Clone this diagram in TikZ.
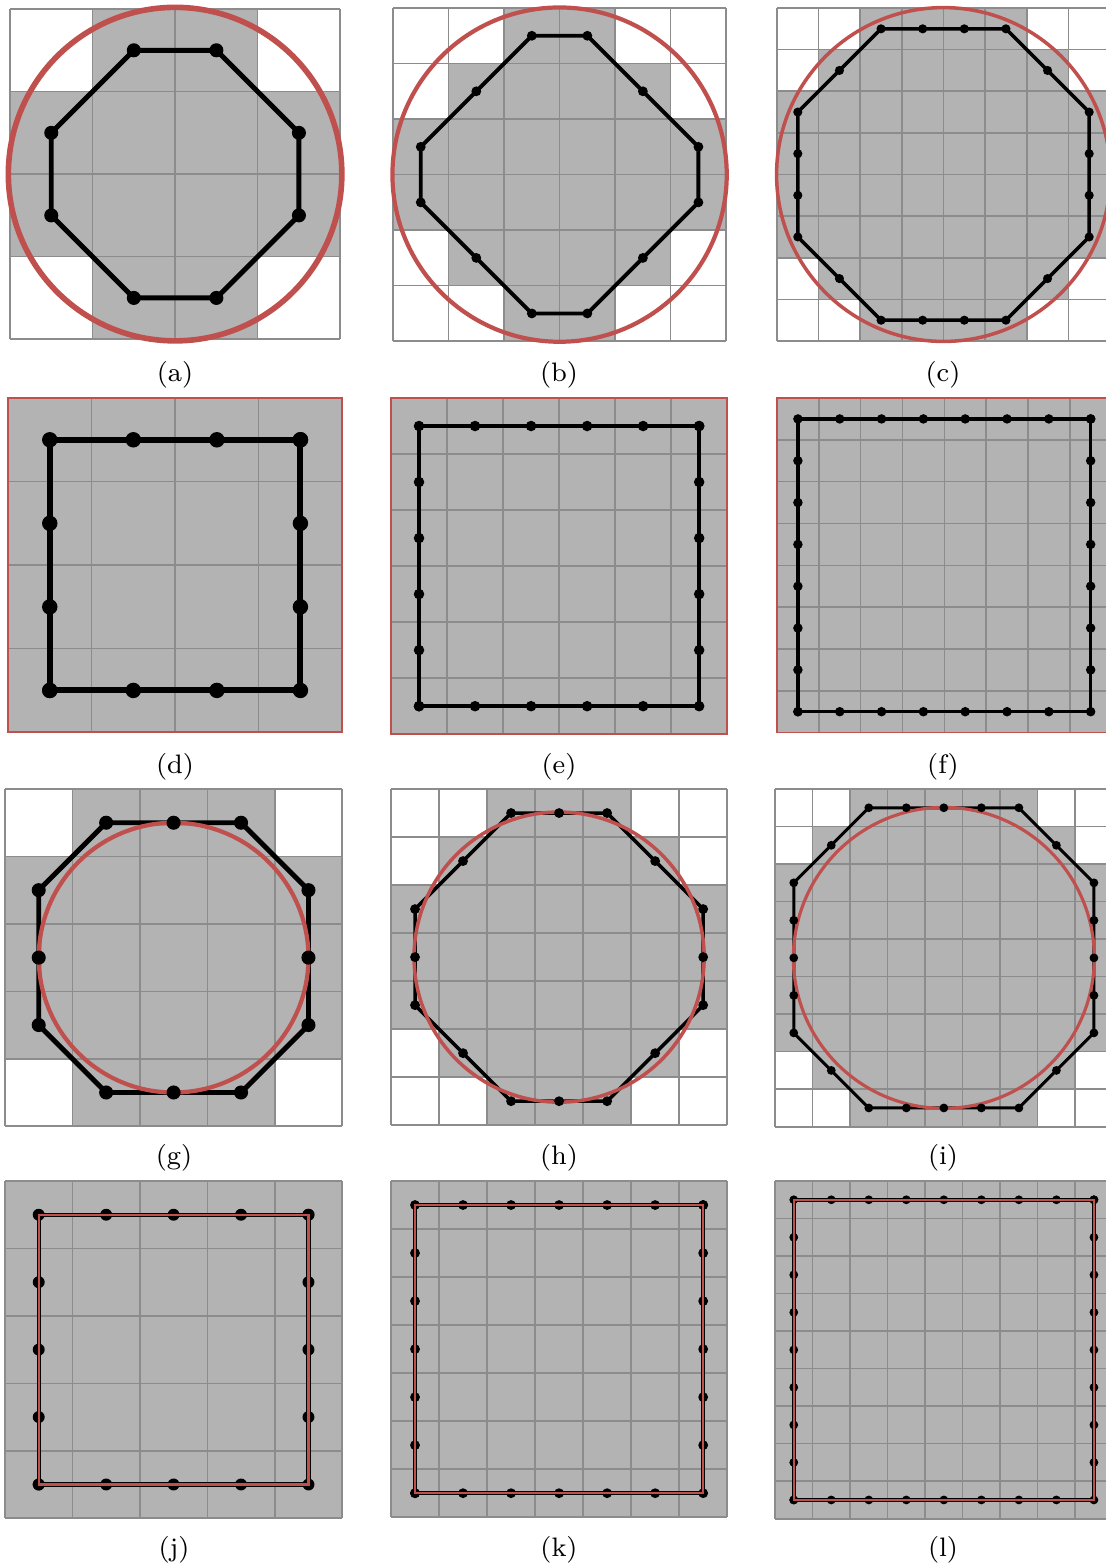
\documentclass[tikz,border=0pt]{standalone}
\definecolor{ringred}{RGB}{192,80,77}
\definecolor{cellgray}{RGB}{179,179,179}
\definecolor{linegray}{RGB}{140,140,140}
\tikzset{
  pixfill/.style={fill=cellgray},
  gridline/.style={draw=linegray, line width=0.45pt},
  ring/.style={draw=ringred, line width=#1},
  polyline/.style={draw=black, line width=#1, line join=round},
  caption/.style={font=\fontsize{7.6}{9}\selectfont}
}

\begin{document}
\begin{tikzpicture}[x=0.01cm,y=-0.01cm]
\useasboundingbox (0,0) rectangle (1106,1568);

% (a) 4x4
\begin{scope}[shift={(10,9)},x=0.825cm,y=-0.825cm]
\fill[pixfill] (1,0) rectangle (3,4) (0,1) rectangle (4,3);
\foreach \i in {0,...,4} \draw[gridline] (\i,0) -- (\i,4) (0,\i) -- (4,\i);
\draw[polyline=1.4pt] (1.5,.5) -- (2.5,.5) -- (3.5,1.5) -- (3.5,2.5) -- (2.5,3.5) -- (1.5,3.5) -- (.5,2.5) -- (.5,1.5) -- cycle;
\foreach \i in {1,2} \fill (\i+.5,.5) circle (2pt) (\i+.5,3.5) circle (2pt) (.5,\i+.5) circle (2pt) (3.5,\i+.5) circle (2pt);
\draw[ring=1.6pt] (2,2) circle (2.02);
\end{scope}
\node[caption] (capa) at (175,375) {(a)};

% (b) 6x6
\begin{scope}[shift={(393,8)},x=0.555cm,y=-0.555cm]
\fill[pixfill] (2,0) rectangle (4,6) (1,1) rectangle (5,5) (0,2) rectangle (6,4);
\foreach \i in {0,...,6} \draw[gridline] (\i,0) -- (\i,6) (0,\i) -- (6,\i);
\draw[polyline=1.1pt] (2.5,.5) -- (3.5,.5) -- (5.5,2.5) -- (5.5,3.5) -- (3.5,5.5) -- (2.5,5.5) -- (.5,3.5) -- (.5,2.5) -- cycle;
\foreach \i in {2,3} \fill (\i+.5,.5) circle (1.4pt) (\i+.5,5.5) circle (1.4pt) (.5,\i+.5) circle (1.4pt) (5.5,\i+.5) circle (1.4pt);
\foreach \p in {(1.5,1.5),(4.5,1.5),(1.5,4.5),(4.5,4.5)} \fill \p circle (1.4pt);
\draw[ring=1.2pt] (3,3) circle (3.01);
\end{scope}
\node[caption] (capb) at (559,375) {(b)};

% (c) 8x8
\begin{scope}[shift={(777,8)},x=0.416cm,y=-0.416cm]
\fill[pixfill] (2,0) rectangle (6,8) (1,1) rectangle (7,7) (0,2) rectangle (8,6);
\foreach \i in {0,...,8} \draw[gridline] (\i,0) -- (\i,8) (0,\i) -- (8,\i);
\draw[polyline=1pt] (2.5,.5) -- (5.5,.5) -- (7.5,2.5) -- (7.5,5.5) -- (5.5,7.5) -- (2.5,7.5) -- (.5,5.5) -- (.5,2.5) -- cycle;
\foreach \i in {2,...,5} \fill (\i+.5,.5) circle (1.3pt) (\i+.5,7.5) circle (1.3pt) (.5,\i+.5) circle (1.3pt) (7.5,\i+.5) circle (1.3pt);
\foreach \p in {(1.5,1.5),(6.5,1.5),(1.5,6.5),(6.5,6.5)} \fill \p circle (1.3pt);
\draw[ring=1pt] (4,4) circle (4.01);
\end{scope}
\node[caption] (capc) at (943,375) {(c)};

% (d) 4x4 square
\begin{scope}[shift={(8,398)},x=0.835cm,y=-0.835cm]
\fill[pixfill] (0,0) rectangle (4,4);
\foreach \i in {0,...,4} \draw[gridline] (\i,0) -- (\i,4) (0,\i) -- (4,\i);
\draw[draw=ringred, line width=0.45pt] (0,0) rectangle (4,4);
\draw[polyline=1.7pt] (.5,.5) rectangle (3.5,3.5);
\foreach \i in {0,...,3} \fill (\i+.5,.5) circle (2.2pt) (\i+.5,3.5) circle (2.2pt) (.5,\i+.5) circle (2.2pt) (3.5,\i+.5) circle (2.2pt);
\end{scope}
\node[caption] (capd) at (175,767) {(d)};

% (e) 6x6 square
\begin{scope}[shift={(391,398)},x=0.56cm,y=-0.56cm]
\fill[pixfill] (0,0) rectangle (6,6);
\foreach \i in {0,...,6} \draw[gridline] (\i,0) -- (\i,6) (0,\i) -- (6,\i);
\draw[draw=ringred, line width=0.45pt] (0,0) rectangle (6,6);
\draw[polyline=1.1pt] (.5,.5) rectangle (5.5,5.5);
\foreach \i in {0,...,5} \fill (\i+.5,.5) circle (1.5pt) (\i+.5,5.5) circle (1.5pt) (.5,\i+.5) circle (1.5pt) (5.5,\i+.5) circle (1.5pt);
\end{scope}
\node[caption] (cape) at (559,767) {(e)};

% (f) 8x8 square
\begin{scope}[shift={(777,398)},x=0.418cm,y=-0.418cm]
\fill[pixfill] (0,0) rectangle (8,8);
\foreach \i in {0,...,8} \draw[gridline] (\i,0) -- (\i,8) (0,\i) -- (8,\i);
\draw[draw=ringred, line width=0.45pt] (0,0) rectangle (8,8);
\draw[polyline=1pt] (.5,.5) rectangle (7.5,7.5);
\foreach \i in {0,...,7} \fill (\i+.5,.5) circle (1.35pt) (\i+.5,7.5) circle (1.35pt) (.5,\i+.5) circle (1.35pt) (7.5,\i+.5) circle (1.35pt);
\end{scope}
\node[caption] (capf) at (943,767) {(f)};

% (g) 5x5
\begin{scope}[shift={(5,789)},x=0.674cm,y=-0.674cm]
\fill[pixfill] (1,0) rectangle (4,5) (0,1) rectangle (5,4);
\foreach \i in {0,...,5} \draw[gridline] (\i,0) -- (\i,5) (0,\i) -- (5,\i);
\draw[polyline=1.4pt] (1.5,.5) -- (3.5,.5) -- (4.5,1.5) -- (4.5,3.5) -- (3.5,4.5) -- (1.5,4.5) -- (.5,3.5) -- (.5,1.5) -- cycle;
\draw[ring=1.2pt] (2.5,2.5) circle (2);
\foreach \i in {1,2,3} \fill (\i+.5,.5) circle (2pt) (\i+.5,4.5) circle (2pt) (.5,\i+.5) circle (2pt) (4.5,\i+.5) circle (2pt);
\end{scope}
\node[caption] (capg) at (174,1158) {(g)};

% (h) 7x7
\begin{scope}[shift={(391,789)},x=0.48cm,y=-0.48cm]
\fill[pixfill] (2,0) rectangle (5,7) (1,1) rectangle (6,6) (0,2) rectangle (7,5);
\foreach \i in {0,...,7} \draw[gridline] (\i,0) -- (\i,7) (0,\i) -- (7,\i);
\draw[polyline=1pt] (2.5,.5) -- (4.5,.5) -- (6.5,2.5) -- (6.5,4.5) -- (4.5,6.5) -- (2.5,6.5) -- (.5,4.5) -- (.5,2.5) -- cycle;
\draw[ring=1pt] (3.5,3.5) circle (3.02);
\foreach \i in {2,3,4} \fill (\i+.5,.5) circle (1.4pt) (\i+.5,6.5) circle (1.4pt) (.5,\i+.5) circle (1.4pt) (6.5,\i+.5) circle (1.4pt);
\foreach \p in {(1.5,1.5),(5.5,1.5),(1.5,5.5),(5.5,5.5)} \fill \p circle (1.4pt);
\end{scope}
\node[caption] (caph) at (559,1158) {(h)};

% (i) 9x9
\begin{scope}[shift={(775,789)},x=0.375cm,y=-0.375cm]
\fill[pixfill] (2,0) rectangle (7,9) (1,1) rectangle (8,8) (0,2) rectangle (9,7);
\foreach \i in {0,...,9} \draw[gridline] (\i,0) -- (\i,9) (0,\i) -- (9,\i);
\draw[polyline=0.85pt] (2.5,.5) -- (6.5,.5) -- (8.5,2.5) -- (8.5,6.5) -- (6.5,8.5) -- (2.5,8.5) -- (.5,6.5) -- (.5,2.5) -- cycle;
\draw[ring=0.9pt] (4.5,4.5) circle (4.01);
\foreach \i in {2,...,6} \fill (\i+.5,.5) circle (1.25pt) (\i+.5,8.5) circle (1.25pt) (.5,\i+.5) circle (1.25pt) (8.5,\i+.5) circle (1.25pt);
\foreach \p in {(1.5,1.5),(7.5,1.5),(1.5,7.5),(7.5,7.5)} \fill \p circle (1.25pt);
\end{scope}
\node[caption] (capi) at (943,1158) {(i)};

% (j) 5x5 square
\begin{scope}[shift={(5,1181)},x=0.674cm,y=-0.674cm]
\fill[pixfill] (0,0) rectangle (5,5);
\foreach \i in {0,...,5} \draw[gridline] (\i,0) -- (\i,5) (0,\i) -- (5,\i);
\foreach \i in {0,...,4} \fill (\i+.5,.5) circle (1.7pt) (\i+.5,4.5) circle (1.7pt) (.5,\i+.5) circle (1.7pt) (4.5,\i+.5) circle (1.7pt);
\draw[polyline=1.2pt] (.5,.5) rectangle (4.5,4.5);
\draw[ring=0.6pt] (.5,.5) rectangle (4.5,4.5);
\end{scope}
\node[caption] (capj) at (174,1550) {(j)};

% (k) 7x7 square
\begin{scope}[shift={(391,1181)},x=0.48cm,y=-0.48cm]
\fill[pixfill] (0,0) rectangle (7,7);
\foreach \i in {0,...,7} \draw[gridline] (\i,0) -- (\i,7) (0,\i) -- (7,\i);
\foreach \i in {0,...,6} \fill (\i+.5,.5) circle (1.4pt) (\i+.5,6.5) circle (1.4pt) (.5,\i+.5) circle (1.4pt) (6.5,\i+.5) circle (1.4pt);
\draw[polyline=1.1pt] (.5,.5) rectangle (6.5,6.5);
\draw[ring=0.55pt] (.5,.5) rectangle (6.5,6.5);
\end{scope}
\node[caption] (capk) at (559,1550) {(k)};

% (l) 9x9 square
\begin{scope}[shift={(775,1181)},x=0.375cm,y=-0.375cm]
\fill[pixfill] (0,0) rectangle (9,9);
\foreach \i in {0,...,9} \draw[gridline] (\i,0) -- (\i,9) (0,\i) -- (9,\i);
\foreach \i in {0,...,8} \fill (\i+.5,.5) circle (1.25pt) (\i+.5,8.5) circle (1.25pt) (.5,\i+.5) circle (1.25pt) (8.5,\i+.5) circle (1.25pt);
\draw[polyline=1pt] (.5,.5) rectangle (8.5,8.5);
\draw[ring=0.5pt] (.5,.5) rectangle (8.5,8.5);
\end{scope}
\node[caption] (capl) at (943,1550) {(l)};
\end{tikzpicture}
\end{document}
